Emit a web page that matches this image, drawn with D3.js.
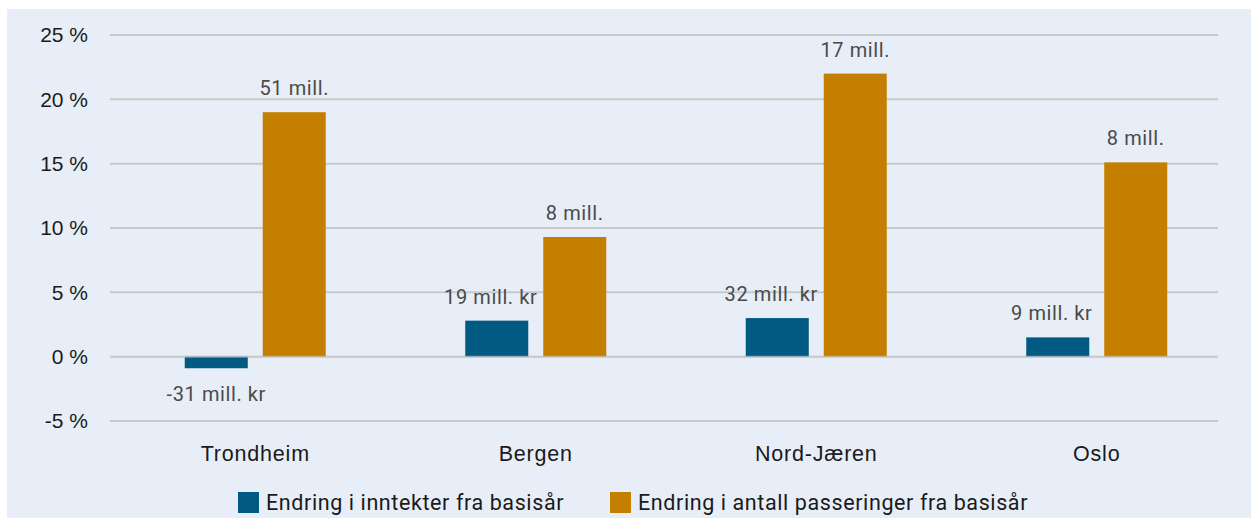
<!DOCTYPE html>
<html>
<head>
<meta charset="utf-8">
<script src="https://d3js.org/d3.v7.min.js"></script>
<style>
  body { margin: 0; background: #fff; }
  svg { display: block; font-family: Roboto, "DejaVu Sans", sans-serif; }
  .y .tick text { font-size: 21px; fill: #1a1a1a; }
  .x .tick text { font-size: 21.5px; fill: #1a1a1a; letter-spacing: 0.8px; }
  .y .domain, .x .domain, .x line { display: none; }
  .grid line { stroke: #c9c9c9; stroke-width: 2; }
  .label { font-size: 20px; fill: #4a4a4a; letter-spacing: 0.6px; }
  .legend text { font-size: 21.5px; fill: #1a1a1a; letter-spacing: 0.6px; }
</style>
</head>
<body>
<script>
var regions = ["Trondheim", "Bergen", "Nord-Jæren", "Oslo"];
var series = ["Endring i inntekter fra basisår", "Endring i antall passeringer fra basisår"];
var income = [-0.9, 2.8, 3.0, 1.5];
var passings = [19.0, 9.3, 22.0, 15.1];
var incomeLabels = ["-31 mill. kr", "19 mill. kr", "32 mill. kr", "9 mill. kr"];
var passingLabels = ["51 mill.", "8 mill.", "17 mill.", "8 mill."];
var yTicks = [-5, 0, 5, 10, 15, 20, 25];
var colors = ["#005a82", "#c47f00"];

var width = 1251, height = 518;

var svg = d3.select("body").append("svg")
    .attr("width", width)
    .attr("height", height);

svg.append("rect")
    .attr("x", 7).attr("y", 9)
    .attr("width", width - 7).attr("height", height - 9)
    .attr("fill", "#e8eef7");

var x = d3.scaleBand()
    .domain(regions)
    .range([115, 1237]);

var x1 = d3.scaleBand()
    .domain([0, 1])
    .range([x.bandwidth() / 2 - 70.5, x.bandwidth() / 2 + 70.5])
    .paddingInner(0.192);

var y = d3.scaleLinear()
    .domain([-5, 25])
    .range([421, 35]);

// grid
svg.append("g")
    .attr("class", "grid")
    .selectAll("line")
    .data(yTicks)
  .enter().append("line")
    .attr("x1", 110).attr("x2", 1218)
    .attr("y1", function(d) { return y(d); })
    .attr("y2", function(d) { return y(d); });

svg.append("g")
    .attr("class", "y axis")
    .attr("transform", "translate(96,0)")
    .call(d3.axisLeft(y).tickValues(yTicks).tickSize(0).tickPadding(8)
      .tickFormat(function(d) { return d + " %"; }));

svg.append("g")
    .attr("class", "x axis")
    .attr("transform", "translate(0,446)")
    .call(d3.axisBottom(x).tickSize(0).tickPadding(0));

var data = regions.map(function(r, i) {
  return {region: r, vals: [
    {s: 0, v: income[i], label: incomeLabels[i]},
    {s: 1, v: passings[i], label: passingLabels[i]}
  ]};
});

var groups = svg.selectAll(".group")
    .data(data)
  .enter().append("g")
    .attr("class", "group")
    .attr("transform", function(d) { return "translate(" + x(d.region) + ",0)"; });

groups.selectAll("rect")
    .data(function(d) { return d.vals; })
  .enter().append("rect")
    .attr("x", function(d) { return x1(d.s); })
    .attr("width", x1.bandwidth())
    .attr("y", function(d) { return y(Math.max(0, d.v)); })
    .attr("height", function(d) { return Math.abs(y(d.v) - y(0)); })
    .attr("fill", function(d) { return colors[d.s]; });

groups.selectAll("text.label")
    .data(function(d) { return d.vals; })
  .enter().append("text")
    .attr("class", "label")
    .attr("text-anchor", "middle")
    .attr("x", function(d) { return x1(d.s) + x1.bandwidth() / 2; })
    .attr("dx", function(d) { return d.s === 0 && d.v > 0 ? -6 : 0; })
    .attr("y", function(d) { return d.v >= 0 ? y(d.v) - 17 : y(d.v) + 33; })
    .text(function(d) { return d.label; });

// faint zero line across bars
svg.append("line")
    .attr("x1", 110).attr("x2", 1218)
    .attr("y1", y(0)).attr("y2", y(0))
    .attr("stroke", "#c9c9c9").attr("stroke-opacity", 0.6).attr("stroke-width", 2);

// legend
var legendX = [238, 610];
var legend = svg.append("g").attr("class", "legend")
    .selectAll("g")
    .data(series)
  .enter().append("g")
    .attr("transform", function(d, i) { return "translate(" + legendX[i] + ",492)"; });

legend.append("rect")
    .attr("width", 21).attr("height", 21)
    .attr("fill", function(d, i) { return colors[i]; });

legend.append("text")
    .attr("x", 28).attr("y", 18)
    .text(function(d) { return d; });
</script>
</body>
</html>
